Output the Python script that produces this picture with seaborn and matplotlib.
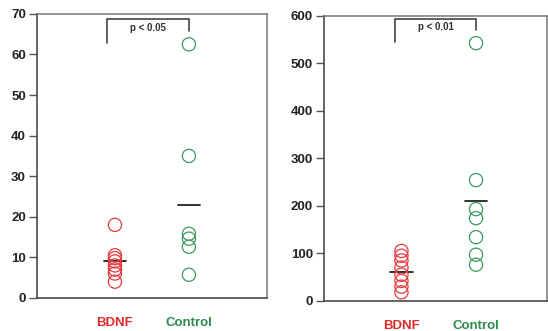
import pandas as pd
import matplotlib.pyplot as plt
import seaborn as sns

# group names and colours
groups = ["BDNF", "Control"]
group_colors = ["#e8383d", "#3a9a5c"]
label_colors = ["#e02b2b", "#2e8b4a"]

# left panel values
left_bdnf = [18, 10.5, 9.8, 9, 8, 7, 6, 4]
left_control = [62.5, 35, 15.8, 14.6, 12.6, 5.7]
left_means = [9.2, 23.0]
left_ticks = [0, 10, 20, 30, 40, 50, 60, 70]
left_p = "p < 0.05"

# right panel values
right_bdnf = [105, 95, 85, 70, 55, 42, 30, 18]
right_control = [542, 254, 193, 174, 134, 97, 76]
right_means = [61, 209]
right_ticks = [0, 100, 200, 300, 400, 500, 600]
right_p = "p < 0.01"


def make_frame(bdnf, control):
    return pd.DataFrame({
        "group": ["BDNF"] * len(bdnf) + ["Control"] * len(control),
        "value": list(bdnf) + list(control),
    })


def draw_panel(ax, bdnf, control, means, ticks, ptext, xlim, bracket):
    df = make_frame(bdnf, control)
    sns.stripplot(data=df, x="group", y="value", hue="group", order=groups,
                  palette=group_colors, jitter=False, size=9.5, linewidth=1,
                  legend=False, ax=ax)
    # hollow circles: edge takes the group colour
    for coll in ax.collections:
        fc = coll.get_facecolor()
        coll.set_edgecolor(fc)
        coll.set_facecolor("none")
        coll.set_linewidth(0.9)

    # mean bars
    for i, m in enumerate(means):
        ax.plot([i - 0.15, i + 0.15], [m, m], color="#222222", lw=1.3)

    # significance bracket
    x0, x1, ytop, yl, yr = bracket
    ax.plot([x0, x0, x1, x1], [yl, ytop, ytop, yr], color="#444444", lw=1.2,
            solid_joinstyle="miter", clip_on=False)
    ax.text((x0 + x1) / 2, (ytop + yr) / 2 - (ticks[-1] * 0.01), ptext,
            ha="center", va="center", fontsize=7, fontweight="bold",
            color="#333333")

    ax.set_xlim(*xlim)
    ax.set_ylim(ticks[0], ticks[-1])
    ax.set_yticks(ticks)
    ax.set_xlabel("")
    ax.set_ylabel("")
    ax.tick_params(axis="x", bottom=False, length=0, pad=14, labelsize=9.5)
    ax.tick_params(axis="y", left=True, length=6, width=1, direction="out",
                   pad=2, labelsize=9.5, color="#555555")
    for lab in ax.get_yticklabels():
        lab.set_fontweight("bold")
        lab.set_color("#222222")
    for lab, c in zip(ax.get_xticklabels(), label_colors):
        lab.set_color(c)
        lab.set_fontweight("bold")
    for side in ["left", "bottom"]:
        ax.spines[side].set_color("#4a4a4a")
        ax.spines[side].set_linewidth(1.2)
    for side in ["top", "right"]:
        ax.spines[side].set_color("#777777")
        ax.spines[side].set_linewidth(1.1)


sns.set_style("white")
plt.rcParams["font.family"] = ["Liberation Sans", "DejaVu Sans"]

fig = plt.figure(figsize=(5.48, 3.31), dpi=100)
ax1 = fig.add_axes([0.0675, 0.10, 0.4195, 0.858])
ax2 = fig.add_axes([0.591, 0.091, 0.407, 0.862])

draw_panel(ax1, left_bdnf, left_control, left_means, left_ticks, left_p,
           (-1.054, 2.054), (-0.11, 1.0, 68.7, 62.9, 65.7))
draw_panel(ax2, right_bdnf, right_control, right_means, right_ticks, right_p,
           (-1.04, 1.95), (-0.084, 1.0, 592, 545, 570))

plt.savefig("out.png", dpi=100)
